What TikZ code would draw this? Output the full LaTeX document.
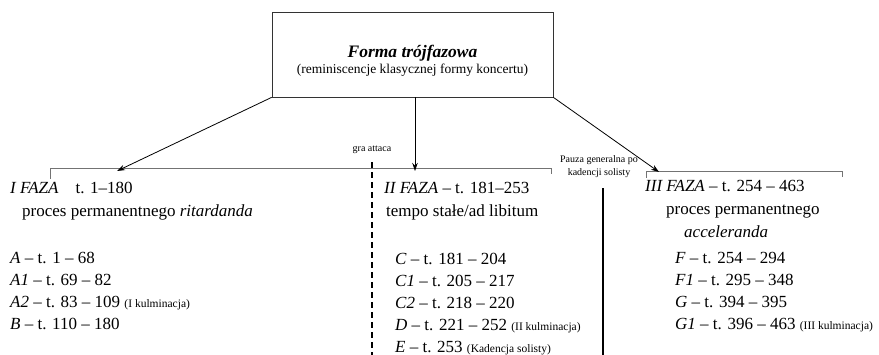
\documentclass[tikz,border=0pt]{standalone}
\usepackage{fontspec}
\setmainfont{Liberation Serif}
\usepackage{tikz}
\usetikzlibrary{arrows,arrows.meta}
\usetikzlibrary{positioning}
\tikzstyle{arrow} = [line width=0.8pt,->,>={Stealth[length=8pt,width=5.5pt]}]
\tikzstyle{forma} = [rectangle, draw=black!80, line width=0.8pt,
    minimum width=281pt, minimum height=85pt]
\tikzstyle{bracket} = [draw=black!55, line width=0.6pt]
\tikzstyle{faza} = [anchor=base west, inner sep=0pt, align=left,
    font=\fontsize{17}{23}\selectfont]
\tikzstyle{lista} = [anchor=base west, inner sep=0pt, align=left,
    font=\fontsize{17}{22}\selectfont]
\tikzstyle{opis} = [anchor=base, inner sep=0pt, align=center,
    font=\fontsize{10}{13}\selectfont]
\newcommand{\kulm}[1]{{\fontsize{11.5}{12}\selectfont #1}}

\begin{document}
\begin{tikzpicture}[x=1pt,y=-1pt]
\useasboundingbox (0,0) rectangle (879,355);

\node (forma) [forma] at (412.5,54.5) {};
\node (tytul) [align=center] at (412.5,61) {
    {\fontsize{17.5}{20}\selectfont\bfseries\itshape Forma trójfazowa} \\[2pt]
    {\fontsize{13.5}{15}\selectfont (reminiscencje klasycznej formy koncertu)}
};

% nawiasy nad fazami
\coordinate (k1a) at (50,179);
\coordinate (k1b) at (551,174);
\coordinate (k3a) at (646,178);
\coordinate (k3b) at (842,177);
\draw [bracket] (k1a) -- ++(0,-11) -| (k1b);
\draw [bracket] (k3a) -- ++(0,-7) -| (k3b);

\coordinate (c1) at (117,171);
\coordinate (c2) at (415,171);
\coordinate (c3) at (659,172);
\draw [arrow] (forma.south west) -- (c1);
\draw [arrow] (forma.south -| c2) -- (c2);
\draw [arrow] (forma.south east) -- (c3);

% granice miedzy fazami
\node (attaca) [opis] at (372,152) {gra attaca};
\coordinate (d1) at (372,355);
\draw [line width=1.3pt, dash pattern=on 6pt off 4pt] (attaca.south) ++(0,8) -- (d1);

\node (pauza) [opis] at (599,176) {Pauza generalna po \\ kadencji solisty};
\coordinate (d2) at (603,355);
\draw [line width=1.4pt] (pauza.south -| d2) ++(0,10) -- (d2);

% I faza (base = ostatnia linia)
\node (faza1) [faza] at (10,217) {
    \textit{I FAZA}\quad t. 1–180 \\
    \hspace*{12pt}proces permanentnego \textit{ritardanda}
};
\node (lista1) [lista] at (10,330) {
    \textit{A} – t. 1 – 68 \\
    \textit{A1} – t. 69 – 82 \\
    \textit{A2} – t. 83 – 109 \kulm{(I kulminacja)} \\
    \textit{B} – t. 110 – 180
};

% II faza
\node (faza2) [faza] at (384,217) {
    \textit{II FAZA} – t. 181–253 \\
    \hspace*{2pt}tempo stałe/ad libitum
};
\node (lista2) [lista] at (395,353) {
    \textit{C} – t. 181 – 204 \\
    \textit{C1} – t. 205 – 217 \\
    \textit{C2} – t. 218 – 220 \\
    \textit{D} – t. 221 – 252 \kulm{(II kulminacja)} \\
    \textit{E} – t. 253 \kulm{\underline{(Kadencja solisty)}}
};

% III faza
\node (faza3) [faza] at (645,238) {
    \textit{III FAZA} – t. 254 – 463 \\
    \hspace*{21pt}proces permanentnego \\
    \hspace*{39pt}\textit{acceleranda}
};
\node (lista3) [lista] at (675,330) {
    \textit{F} – t. 254 – 294 \\
    \textit{F1} – t. 295 – 348 \\
    \textit{G} – t. 394 – 395 \\
    \textit{G1} – t. 396 – 463 \kulm{(III kulminacja)}
};
\end{tikzpicture}
\end{document}
